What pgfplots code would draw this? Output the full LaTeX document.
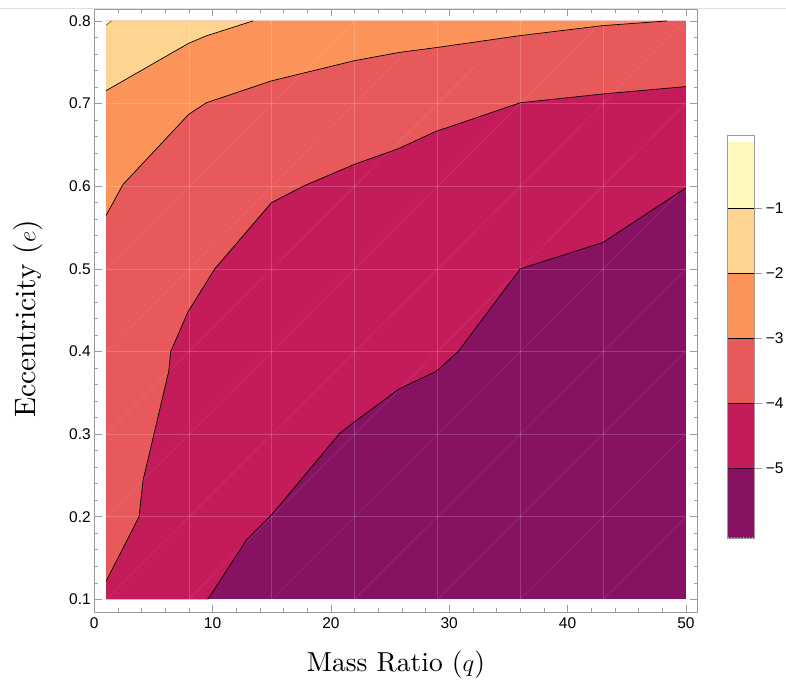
\documentclass[border=0pt]{standalone}
\usepackage{fontspec}
\newfontfamily\ticksf{Liberation Sans}
\newfontfamily\labfont{lmroman10-regular}[Extension=.otf]
\usepackage{pgfplots}
\pgfplotsset{compat=1.18}
\definecolor{cP}{HTML}{871262}
\definecolor{cC}{HTML}{C41B5B}
\definecolor{cS}{HTML}{E8595B}
\definecolor{cO}{HTML}{FC9459}
\definecolor{cK}{HTML}{FDD591}
\definecolor{cY}{HTML}{FFF8BD}
\definecolor{frm}{HTML}{9A9A9A}
\begin{document}
\begin{tikzpicture}[x=1pt,y=1pt]
\path[use as bounding box] (0,0) rectangle (786,-688);
\draw[black!12, line width=0.8pt] (0,-8.3) -- (786,-8.3);
\begin{axis}[
  at={(94.3pt,-612.3pt)}, anchor=south west,
  scale only axis, width=603.4pt, height=603.3pt,
  xmin=0, xmax=51, ymin=0.0843, ymax=0.8145,
  axis line style={frm, line width=0.8pt},
  tick align=inside,
  xtick={0,10,20,30,40,50}, minor x tick num=4,
  ytick={0.1,0.2,0.3,0.4,0.5,0.6,0.7,0.8}, minor y tick num=4,
  major tick length=7.3pt, minor tick length=4pt,
  every tick/.style={frm, line width=0.6pt},
  ticklabel style={font=\ticksf\fontsize{15.5}{16}\selectfont, text=black},
  /pgf/number format/assume math mode=true,
  yticklabel style={/pgf/number format/fixed, /pgf/number format/precision=1, /pgf/number format/fixed zerofill},
  xticklabel style={yshift=-2pt},
  axis on top,
  every axis plot/.append style={mark=none},
]
% filled bands
\addplot[fill=cP, draw=none] coordinates {(1,0.1)(50,0.1)(50,0.8)(1,0.8)} -- cycle;
\addplot[fill=cC, draw=none] coordinates {(9.6,0.1)(12.86,0.172)(14.97,0.202)(20.75,0.301)(22,0.315)(25.8,0.355)(28.9,0.376)(30.76,0.4)(36,0.5)(43,0.532)(50,0.598)(50,0.8)(1,0.8)(1,0.1)} -- cycle;
\addplot[fill=cS, draw=none] coordinates {(1,0.122)(3.78,0.2)(4.12,0.244)(6.29,0.376)(6.46,0.4)(7.92,0.448)(10.18,0.5)(14.97,0.58)(17.65,0.6)(22,0.6266)(25.8,0.646)(28.8,0.666)(36,0.701)(43,0.7117)(50,0.7206)(50,0.8)(1,0.8)} -- cycle;
\addplot[fill=cO, draw=none] coordinates {(1,0.5647)(2.42,0.602)(7.98,0.687)(9.47,0.701)(14.97,0.7275)(22,0.752)(25.8,0.762)(29,0.768)(36,0.7823)(43,0.7944)(48.4,0.8)(1,0.8)} -- cycle;
\addplot[fill=cK, draw=none] coordinates {(1,0.7157)(7.98,0.773)(9.47,0.782)(13.4,0.8)(1,0.8)} -- cycle;
\addplot[fill=cY, draw=none] coordinates {(1,0.795)(1.45,0.8)(1,0.8)} -- cycle;
% mesh
\foreach \q in {8,15,22,29,36,43} {
  \edef\tmp{\noexpand\addplot[white, opacity=0.18, line width=0.6pt] coordinates {(\q,0.1)(\q,0.8)};}\tmp
}
\foreach \e in {0.2,0.3,0.4,0.5,0.6,0.7} {
  \edef\tmp{\noexpand\addplot[white, opacity=0.18, line width=0.6pt] coordinates {(1,\e)(50,\e)};}\tmp
}
\addplot[white, opacity=0.12, line width=0.5pt] coordinates {(1,0.1)(50,0.8)};
\addplot[white, opacity=0.12, line width=0.5pt] coordinates {(1,0.2)(43,0.8)};
\addplot[white, opacity=0.12, line width=0.5pt] coordinates {(1,0.3)(36,0.8)};
\addplot[white, opacity=0.12, line width=0.5pt] coordinates {(1,0.4)(29,0.8)};
\addplot[white, opacity=0.12, line width=0.5pt] coordinates {(1,0.5)(22,0.8)};
\addplot[white, opacity=0.12, line width=0.5pt] coordinates {(1,0.6)(15,0.8)};
\addplot[white, opacity=0.12, line width=0.5pt] coordinates {(1,0.7)(8,0.8)};
\addplot[white, opacity=0.12, line width=0.5pt] coordinates {(8,0.1)(50,0.7)};
\addplot[white, opacity=0.12, line width=0.5pt] coordinates {(15,0.1)(50,0.6)};
\addplot[white, opacity=0.12, line width=0.5pt] coordinates {(22,0.1)(50,0.5)};
\addplot[white, opacity=0.12, line width=0.5pt] coordinates {(29,0.1)(50,0.4)};
\addplot[white, opacity=0.12, line width=0.5pt] coordinates {(36,0.1)(50,0.3)};
\addplot[white, opacity=0.12, line width=0.5pt] coordinates {(43,0.1)(50,0.2)};
% contour lines
\addplot[black, line width=0.7pt] coordinates {(9.6,0.1)(12.86,0.172)(14.97,0.202)(20.75,0.301)(22,0.315)(25.8,0.355)(28.9,0.376)(30.76,0.4)(36,0.5)(43,0.532)(50,0.598)};
\addplot[black, line width=0.7pt] coordinates {(1,0.122)(3.78,0.2)(4.12,0.244)(6.29,0.376)(6.46,0.4)(7.92,0.448)(10.18,0.5)(14.97,0.58)(17.65,0.6)(22,0.6266)(25.8,0.646)(28.8,0.666)(36,0.701)(43,0.7117)(50,0.7206)};
\addplot[black, line width=0.7pt] coordinates {(1,0.5647)(2.42,0.602)(7.98,0.687)(9.47,0.701)(14.97,0.7275)(22,0.752)(25.8,0.762)(29,0.768)(36,0.7823)(43,0.7944)(48.4,0.8)};
\addplot[black, line width=0.7pt] coordinates {(1,0.7157)(7.98,0.773)(9.47,0.782)(13.4,0.8)};
\addplot[black!70, line width=0.6pt] coordinates {(1,0.795)(1.45,0.8)};
\end{axis}
% colour bar
\begin{axis}[
  at={(727.3pt,-538.3pt)}, anchor=south west,
  scale only axis, width=27pt, height=403.3pt,
  xmin=0, xmax=1, ymin=-6.077, ymax=0.128,
  axis line style={frm, line width=0.8pt},
  xtick=\empty,
  ytick={-5,-4,-3,-2,-1}, yticklabels={−5,−4,−3,−2,−1},
  ytick pos=right, yticklabel pos=right,
  tick align=outside, major tick length=8pt,
  every tick/.style={frm, line width=0.6pt},
  ticklabel style={font=\ticksf\fontsize{15.5}{16}\selectfont, text=black},
  axis on top,
  every axis plot/.append style={mark=none},
]
\addplot[fill=cP, draw=none] coordinates {(0,-6.077)(1,-6.077)(1,-5)(0,-5)} -- cycle;
\addplot[fill=cC, draw=none] coordinates {(0,-5)(1,-5)(1,-4)(0,-4)} -- cycle;
\addplot[fill=cS, draw=none] coordinates {(0,-4)(1,-4)(1,-3)(0,-3)} -- cycle;
\addplot[fill=cO, draw=none] coordinates {(0,-3)(1,-3)(1,-2)(0,-2)} -- cycle;
\addplot[fill=cK, draw=none] coordinates {(0,-2)(1,-2)(1,-1)(0,-1)} -- cycle;
\addplot[fill=cY, draw=none] coordinates {(0,-1)(1,-1)(1,0.025)(0,0.025)} -- cycle;
\addplot[black!60!cP, line width=0.6pt] coordinates {(0,-5)(1,-5)};
\addplot[black, line width=0.6pt] coordinates {(0,-4)(1,-4)};
\addplot[black, line width=0.6pt] coordinates {(0,-3)(1,-3)};
\addplot[black, line width=0.6pt] coordinates {(0,-2)(1,-2)};
\addplot[black, line width=0.6pt] coordinates {(0,-1)(1,-1)};
\addplot[black!35, line width=2.5pt, dash pattern=on 0.5pt off 2.5pt] coordinates {(0.03,-6.077)(1,-6.077)};
\end{axis}
\node[font=\labfont\fontsize{27.5}{30}\selectfont] at (396,-665) {Mass Ratio ($q$)};
\node[font=\labfont\fontsize{29.5}{30}\selectfont, rotate=90] at (28,-319) {Eccentricity ($e$)};
\end{tikzpicture}
\end{document}
